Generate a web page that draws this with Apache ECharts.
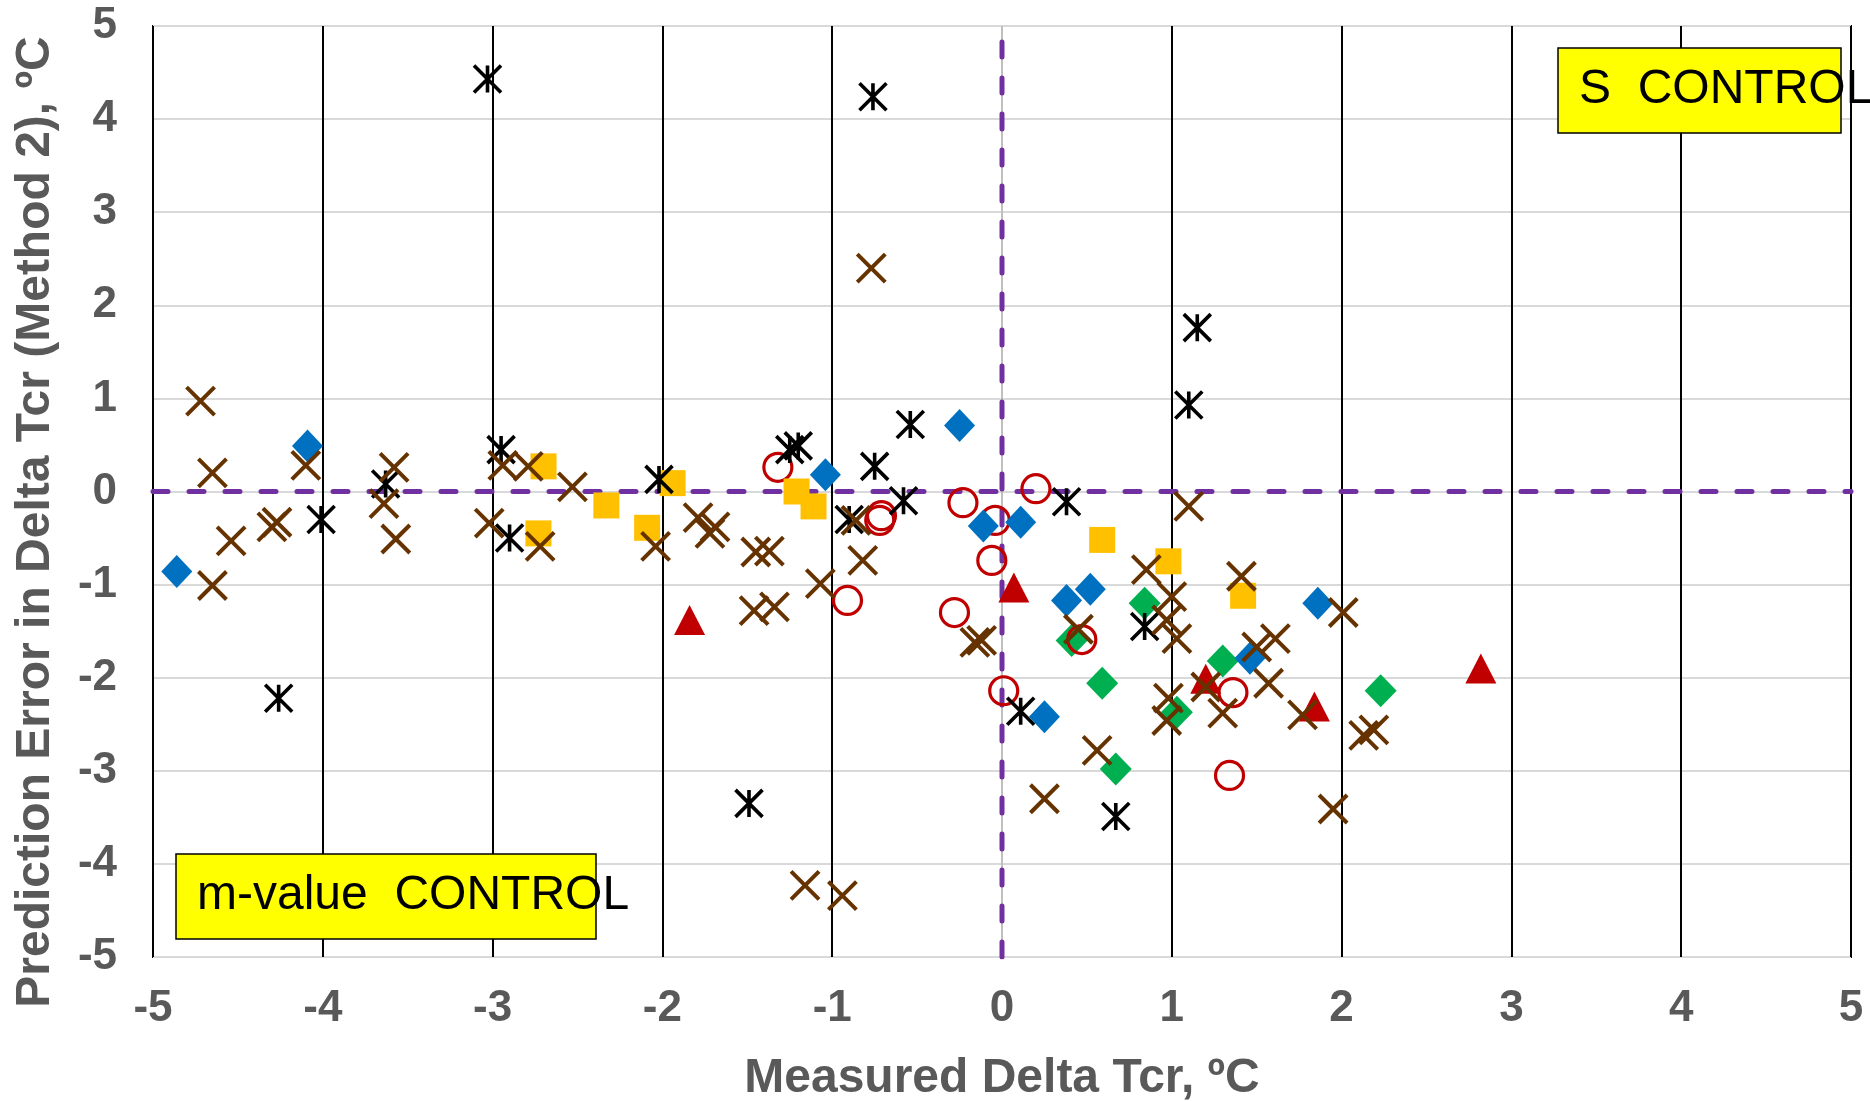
<!DOCTYPE html>
<html>
<head>
<meta charset="utf-8">
<script src="https://cdn.jsdelivr.net/npm/echarts/dist/echarts.min.js"></script>
<style>
  html, body { margin: 0; padding: 0; background: #ffffff; }
  #chart { width: 1870px; height: 1101px; }
</style>
</head>
<body>
<div id="chart"></div>
<script>
// Axis range and tick labels
const axisMin = -5;
const axisMax = 5;
const tickStep = 1;

// Measured Delta Tcr (x) vs prediction error (y), one array per marker group
const blueDiamond = [[-4.86,-0.86],[-4.09,0.49],[-1.04,0.18],[-0.25,0.71],[-0.11,-0.37],[0.11,-0.33],
  [0.38,-1.17],[0.52,-1.05],[0.25,-2.42],[1.46,-1.79],[1.86,-1.20]];

const yellowSquare = [[-2.70,0.27],[-2.33,-0.15],[-2.73,-0.45],[-2.09,-0.39],[-1.94,0.09],[-1.21,0.00],
  [-1.11,-0.16],[0.59,-0.52],[0.98,-0.75],[1.42,-1.12]];

const redTriangle = [[-1.84,-1.38],[0.07,-1.03],[1.20,-2.01],[1.84,-2.31],[2.82,-1.90]];

const blackAsterisk = [[-3.03,4.43],[-0.76,4.24],[1.15,1.76],[1.10,0.93],[-4.01,-0.30],[-4.26,-2.22],
  [-3.63,0.08],[-2.95,0.45],[-2.90,-0.50],[-2.02,0.13],[-1.25,0.45],[-1.20,0.49],[-0.75,0.27],
  [-0.54,0.72],[-0.58,-0.10],[-0.90,-0.30],[0.38,-0.11],[0.84,-1.45],[0.11,-2.36],[0.67,-3.49],
  [-1.49,-3.35]];

const redCircle = [[-1.32,0.26],[-0.71,-0.26],[-0.72,-0.31],[-0.91,-1.17],[-0.23,-0.12],[-0.04,-0.31],
  [0.20,0.03],[-0.06,-0.74],[-0.28,-1.30],[0.47,-1.59],[0.01,-2.14],[1.36,-2.16],[1.34,-3.05]];

const greenDiamond = [[0.84,-1.20],[0.41,-1.60],[0.59,-2.06],[0.67,-2.98],[1.30,-1.82],[1.03,-2.37],
  [2.23,-2.14]];

const brownCross = [[-4.72,0.97],[-4.65,0.20],[-4.10,0.28],[-4.54,-0.53],[-4.65,-1.01],[-4.30,-0.38],
  [-4.27,-0.33],[-3.58,0.26],[-3.64,-0.13],[-3.57,-0.51],[-2.94,0.28],[-2.79,0.27],[-2.53,0.05],
  [-3.02,-0.34],[-2.72,-0.59],[-2.04,-0.59],[-1.79,-0.28],[-1.72,-0.45],[-1.69,-0.38],[-1.45,-0.65],
  [-1.37,-0.64],[-1.46,-1.28],[-1.34,-1.24],[-1.07,-0.99],[-0.86,-0.31],[-0.82,-0.74],[-0.77,2.40],
  [-1.16,-4.23],[-0.94,-4.34],[-0.16,-1.62],[-0.12,-1.60],[0.45,-1.48],[0.25,-3.30],[0.56,-2.78],
  [0.85,-0.84],[1.10,-0.16],[1.00,-1.13],[0.97,-1.38],[1.03,-1.58],[1.41,-0.91],[2.01,-1.30],
  [1.50,-1.67],[1.61,-1.58],[1.20,-2.10],[1.57,-2.06],[1.30,-2.38],[1.77,-2.40],[0.98,-2.22],
  [0.97,-2.46],[2.13,-2.62],[2.19,-2.56],[1.95,-3.41]];

// Zero reference lines
const zeroHorizontal = [[axisMin, 0], [axisMax, 0]];
const zeroVertical = [[0, axisMin], [0, axisMax]];

const FONT = '"Liberation Sans", Arial, sans-serif';
const LABEL_GREY = '#595959';
const CROSS_PATH = 'path://M0,0L10,10M10,0L0,10';
const ASTERISK_PATH = 'path://M0,0L10,10M10,0L0,10M5,0L5,10';

// Vertical grid lines are black, except the one at x = 0
const verticalLineColors = [];
for (let v = axisMin; v <= axisMax; v += tickStep) {
  verticalLineColors.push(v === 0 ? '#BFBFBF' : '#000000');
}

function scatter(name, data, z, symbol, size, itemStyle) {
  return {
    name, type: 'scatter', data, z, symbol, symbolSize: size,
    itemStyle: Object.assign({ opacity: 1 }, itemStyle),
    emphasis: { disabled: true }, silent: true, clip: false
  };
}

function zeroLine(data) {
  return {
    type: 'line', data, z: 1, showSymbol: false, symbol: 'none', silent: true,
    lineStyle: { color: '#7030A0', width: 5, type: [15, 21], cap: 'round', opacity: 1 },
    emphasis: { disabled: true }
  };
}

const chart = echarts.init(document.getElementById('chart'), null, { renderer: 'canvas' });

chart.setOption({
  animation: false,
  backgroundColor: '#ffffff',
  grid: {
    left: 153, right: 19, top: 26, bottom: 144,
    show: true, borderColor: '#000000', borderWidth: 2,
    containLabel: false, outerBoundsMode: 'none'
  },
  xAxis: {
    type: 'value', min: axisMin, max: axisMax, interval: tickStep,
    name: 'Measured Delta Tcr, ºC',
    nameLocation: 'middle', nameGap: 98,
    nameTextStyle: { fontFamily: FONT, fontSize: 48, fontWeight: 'bold', color: LABEL_GREY },
    axisLine: { show: false },
    axisTick: { show: false },
    axisLabel: {
      margin: 30, fontFamily: FONT, fontSize: 44, fontWeight: 'bold', color: LABEL_GREY,
      showMinLabel: true, showMaxLabel: true, hideOverlap: false
    },
    splitLine: { show: true, showMinLine: true, showMaxLine: true,
      lineStyle: { color: verticalLineColors, width: 2 } }
  },
  yAxis: {
    type: 'value', min: axisMin, max: axisMax, interval: tickStep,
    axisLine: { show: false },
    axisTick: { show: false },
    axisLabel: {
      margin: 36, fontFamily: FONT, fontSize: 44, fontWeight: 'bold', color: LABEL_GREY,
      showMinLabel: true, showMaxLabel: true, hideOverlap: false
    },
    splitLine: { show: true, lineStyle: { color: '#D9D9D9', width: 2 } }
  },
  series: [
    zeroLine(zeroHorizontal),
    zeroLine(zeroVertical),
    scatter('green', greenDiamond, 2, 'diamond', [32, 33], { color: '#00B050' }),
    scatter('circle', redCircle, 3, 'circle', 28,
      { color: 'rgba(0,0,0,0)', borderColor: '#C00000', borderWidth: 3.2 }),
    scatter('square', yellowSquare, 4, 'rect', 26, { color: '#FFC000' }),
    scatter('triangle', redTriangle, 5, 'triangle', [31, 30], { color: '#C00000' }),
    scatter('asterisk', blackAsterisk, 6, ASTERISK_PATH, 27,
      { color: 'rgba(0,0,0,0)', borderColor: '#000000', borderWidth: 3.6 }),
    scatter('blue', blueDiamond, 7, 'diamond', [31, 33], { color: '#0070C0' }),
    scatter('cross', brownCross, 8, CROSS_PATH, 28,
      { color: 'rgba(0,0,0,0)', borderColor: '#663300', borderWidth: 4 })
  ],
  graphic: [
    {
      type: 'text', x: 36, y: 522, rotation: Math.PI / 2, z: 20,
      style: {
        text: 'Prediction Error in Delta Tcr (Method 2), ºC',
        fontFamily: FONT, fontSize: 48, fontWeight: 'bold', fill: LABEL_GREY,
        align: 'center', verticalAlign: 'middle'
      }
    },
    {
      type: 'rect', z: 30,
      shape: { x: 1558, y: 48, width: 283, height: 85 },
      style: { fill: '#FFFF00', stroke: '#000000', lineWidth: 1.5 }
    },
    {
      type: 'text', x: 1579, y: 90, z: 31,
      style: { text: 'S  CONTROL', fontFamily: FONT, fontSize: 48, fill: '#000000',
        align: 'left', verticalAlign: 'middle' }
    },
    {
      type: 'rect', z: 30,
      shape: { x: 176, y: 854, width: 420, height: 85 },
      style: { fill: '#FFFF00', stroke: '#000000', lineWidth: 1.5 }
    },
    {
      type: 'text', x: 197, y: 896, z: 31,
      style: { text: 'm-value  CONTROL', fontFamily: FONT, fontSize: 48, fill: '#000000',
        align: 'left', verticalAlign: 'middle' }
    }
  ]
});
</script>
</body>
</html>
